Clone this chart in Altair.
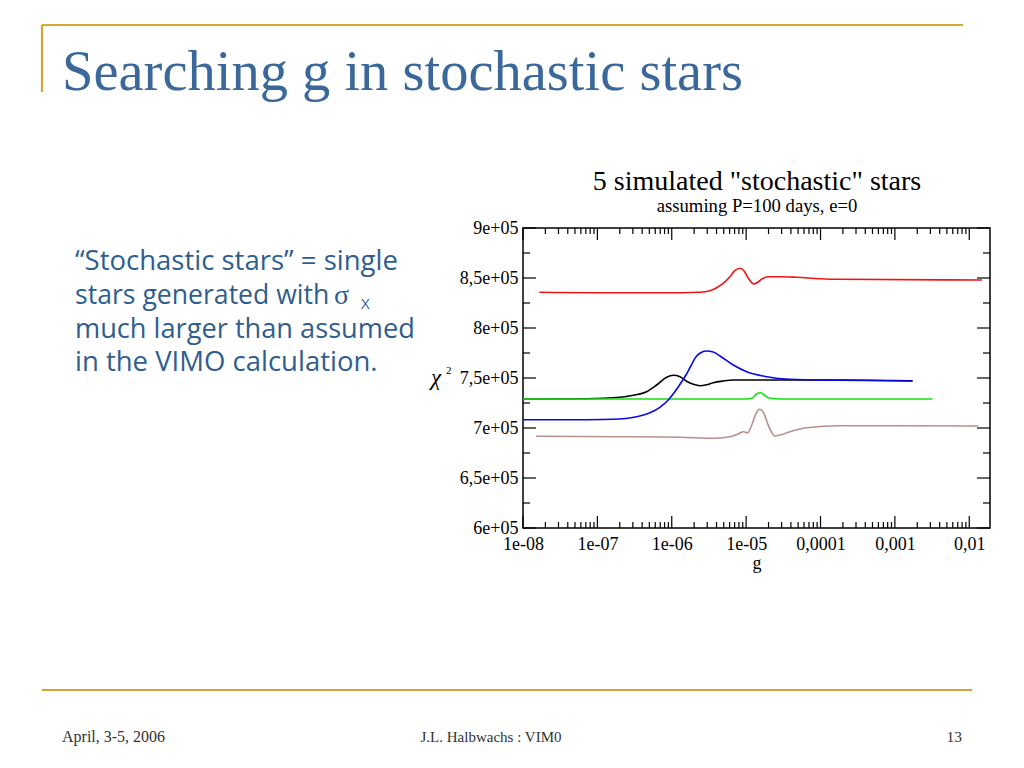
import altair as alt
import pandas as pd

# ---------------- data ----------------
black_g = [1e-8, 7.18e-8, 2.01e-7, 3.04e-7, 4.60e-7, 6.27e-7, 8.53e-7, 1.05e-6, 1.29e-6,
           1.58e-6, 1.95e-6, 2.39e-6, 2.94e-6, 3.61e-6, 4.92e-6, 6.71e-6, 1.82e-4, 1.73e-3]
black_v = [729000, 729300, 730700, 732700, 736300, 743000, 750700, 752700, 751300,
           746800, 743700, 742300, 743300, 745300, 747000, 748000, 748000, 747300]

red_g = [1.66e-8, 1.08e-7, 1.29e-6, 2.39e-6, 3.26e-6, 4.01e-6, 4.92e-6, 6.05e-6, 7.06e-6,
         8.26e-6, 9.33e-6, 1.07e-5, 1.19e-5, 1.27e-5, 1.41e-5, 1.61e-5, 1.98e-5, 2.84e-5,
         4.78e-5, 9.82e-5, 1.82e-4, 1.48e-2]
red_v = [835700, 835300, 835300, 835700, 837300, 840300, 844700, 851300, 857300,
         859700, 857300, 849700, 845300, 844000, 845300, 848700, 851300, 851300,
         850700, 849300, 848700, 848000]

green_g = [1e-8, 1.02e-5, 1.19e-5, 1.38e-5, 1.57e-5, 1.79e-5, 2.04e-5, 2.84e-5, 3.21e-3]
green_v = [729000, 729000, 729700, 734000, 735300, 732300, 730000, 729000, 729000]

blue_g = [1e-8, 7.18e-8, 2.01e-7, 3.37e-7, 5.09e-7, 6.93e-7, 8.97e-7, 1.10e-6, 1.36e-6,
          1.58e-6, 1.76e-6, 2.16e-6, 2.52e-6, 2.94e-6, 3.61e-6, 4.45e-6, 6.71e-6, 1.02e-5,
          1.89e-5, 3.88e-5, 1.82e-4, 1.73e-3]
blue_v = [708300, 708300, 709000, 711300, 715300, 720700, 728000, 736300, 746300,
          754000, 760500, 772000, 775700, 777000, 776000, 772000, 763000, 756300,
          751300, 748700, 747700, 747000]

brown_g = [1.5e-8, 2.01e-7, 1.29e-6, 3.61e-6, 6.05e-6, 7.83e-6, 9.14e-6, 1.05e-5, 1.19e-5,
           1.36e-5, 1.53e-5, 1.73e-5, 1.98e-5, 2.44e-5, 2.84e-5, 3.88e-5, 6.50e-5, 1.82e-4,
           1.32e-2]
brown_v = [691800, 691300, 690700, 689700, 691300, 694000, 696300, 695300, 703000,
           714700, 718700, 714700, 703000, 692000, 693000, 696300, 700300, 702300, 702000]

series_names = ["black", "red", "green", "blue", "brown"]
series_colors = ["#000000", "#F01414", "#14E014", "#0808E8", "#BC8F8F"]
series_g = [black_g, red_g, green_g, blue_g, brown_g]
series_v = [black_v, red_v, green_v, blue_v, brown_v]

x_major = [1e-8, 1e-7, 1e-6, 1e-5, 1e-4, 1e-3, 1e-2]
x_tick_labels = ["1e-08", "1e-07", "1e-06", "1e-05", "0,0001", "0,001", "0,01"]
x_minor = [k * 10.0 ** e for e in range(-8, -2) for k in range(2, 10)]
y_major = [600000, 650000, 700000, 750000, 800000, 850000, 900000]
y_tick_labels = ["6e+05", "6,5e+05", "7e+05", "7,5e+05", "8e+05", "8,5e+05", "9e+05"]
y_minor = [625000, 675000, 725000, 775000, 825000, 875000]

slide_title = "Searching g in stochastic stars"
chart_title = '5 simulated "stochastic" stars'
chart_subtitle = "assuming P=100 days, e=0"
body_lines = ["\u201cStochastic stars\u201d = single", "stars generated with",
              "much larger than assumed", "in the VIMO calculation."]
footer_left = "April, 3-5, 2006"
footer_mid = "J.L. Halbwachs : VIM0"
footer_right = "13"

# ---------------- styling ----------------
W, H = 467, 300
SERIF = "Liberation Serif"
SANS = "Open Sans"
GOLD = "#D4A530"
TITLE_BLUE = "#3A689B"
BODY_BLUE = "#2F5E8E"

xscale = alt.Scale(type="log", domain=[1e-8, 0.019], nice=False)
yscale = alt.Scale(domain=[600000, 900000], nice=False, zero=False)

x_expr = "[" + ",".join("'%s'" % s for s in x_tick_labels) + "][round(log(datum.value)/LN10)+8]"
y_expr = "[" + ",".join("'%s'" % s for s in y_tick_labels) + "][round((datum.value-600000)/50000)]"

x_axis = alt.Axis(values=x_major, labelExpr=x_expr, ticks=False, domain=False, grid=False,
                  labelFont=SERIF, labelFontSize=18, labelColor="black", labelPadding=7,
                  labelOverlap=False, labelFlush=False, title="g", titleFont=SERIF,
                  titleFontSize=18, titleFontWeight="normal", titleColor="black",
                  titlePadding=1)
y_axis = alt.Axis(values=y_major, labelExpr=y_expr, ticks=False, domain=False, grid=False,
                  labelFont=SERIF, labelFontSize=18, labelColor="black", labelPadding=5,
                  labelOverlap=False, labelFlush=False, title=None)

X = lambda: alt.X("g:Q", scale=xscale, axis=x_axis)
Y = lambda: alt.Y("chi2:Q", scale=yscale, axis=y_axis)

layers = []

# data lines
for name, gs, vs, col in zip(series_names, series_g, series_v, series_colors):
    df = pd.DataFrame({"g": gs, "chi2": vs})
    layers.append(
        alt.Chart(df).mark_line(color=col, strokeWidth=1.6, interpolate="monotone").encode(
            x=X(), y=Y())
    )

# tick marks drawn inward on all four sides
def xticks(vals, y0, y1):
    return alt.Chart(pd.DataFrame({"g": vals})).mark_rule(color="black", strokeWidth=1.2).encode(
        x=X(), y=alt.value(y0), y2=alt.value(y1))

def yticks(vals, x0, x1):
    return alt.Chart(pd.DataFrame({"chi2": vals})).mark_rule(color="black", strokeWidth=1.2).encode(
        y=Y(), x=alt.value(x0), x2=alt.value(x1))

layers += [
    xticks(x_major, H, H - 12), xticks(x_minor, H, H - 6),
    xticks(x_major, 0, 12), xticks(x_minor, 0, 6),
    yticks(y_major, 0, 13), yticks(y_minor, 0, 7),
    yticks(y_major, W, W - 13), yticks(y_minor, W, W - 7),
]

def text(txt, x, y, size, font, color, align="left", baseline="alphabetic", style="normal"):
    return alt.Chart(pd.DataFrame({"t": [txt]})).mark_text(
        align=align, baseline=baseline, font=font, fontSize=size, color=color, fontStyle=style
    ).encode(text="t:N", x=alt.value(x), y=alt.value(y))

def hrule(x0, x1, y):
    return alt.Chart(pd.DataFrame({"a": [0]})).mark_rule(color=GOLD, strokeWidth=2.2).encode(
        x=alt.value(x0), x2=alt.value(x1), y=alt.value(y))

def vrule(x, y0, y1):
    return alt.Chart(pd.DataFrame({"a": [0]})).mark_rule(color=GOLD, strokeWidth=2.2).encode(
        x=alt.value(x), y=alt.value(y0), y2=alt.value(y1))

# slide decorations (positions relative to plot origin at page 523,228)
layers += [
    hrule(-481, 440, -203),
    vrule(-481, -203, -136),
    hrule(-481, 449, 462),
    text(slide_title, -461, -138, 56.5, SERIF, TITLE_BLUE),
    text(body_lines[0], -448, 42, 27.5, SANS, BODY_BLUE),
    text(body_lines[1], -448, 76, 26.6, SANS, BODY_BLUE),
    text("\u03c3", -189, 76, 28, SERIF, BODY_BLUE),
    text("X", -162, 81, 15, SANS, BODY_BLUE),
    text(body_lines[2], -448, 110, 27.2, SANS, BODY_BLUE),
    text(body_lines[3], -448, 143, 27.5, SANS, BODY_BLUE),
    text(chart_title, 234, -38, 28, SERIF, "black", align="center"),
    text(chart_subtitle, 234, -16, 18.7, SERIF, "black", align="center"),
    text("\u03c7", -92, 157, 23, SERIF, "black", style="italic"),
    text("2", -77, 146, 11, SERIF, "black"),
    text(footer_left, -461, 514, 16, SERIF, "#333333"),
    text(footer_mid, -32, 514, 15, SERIF, "#333333", align="center"),
    text(footer_right, 439, 514, 15.5, SERIF, "#333333", align="right"),
]

chart = alt.layer(*layers).properties(
    width=W, height=H,
    autosize=alt.AutoSizeParams(type="none"),
    padding={"left": 515, "top": 220, "right": 16, "bottom": 222},
    background="white",
).configure_view(stroke="black", strokeWidth=1.5)

chart.save("out.html", embed_options={"renderer": "svg", "actions": False})
